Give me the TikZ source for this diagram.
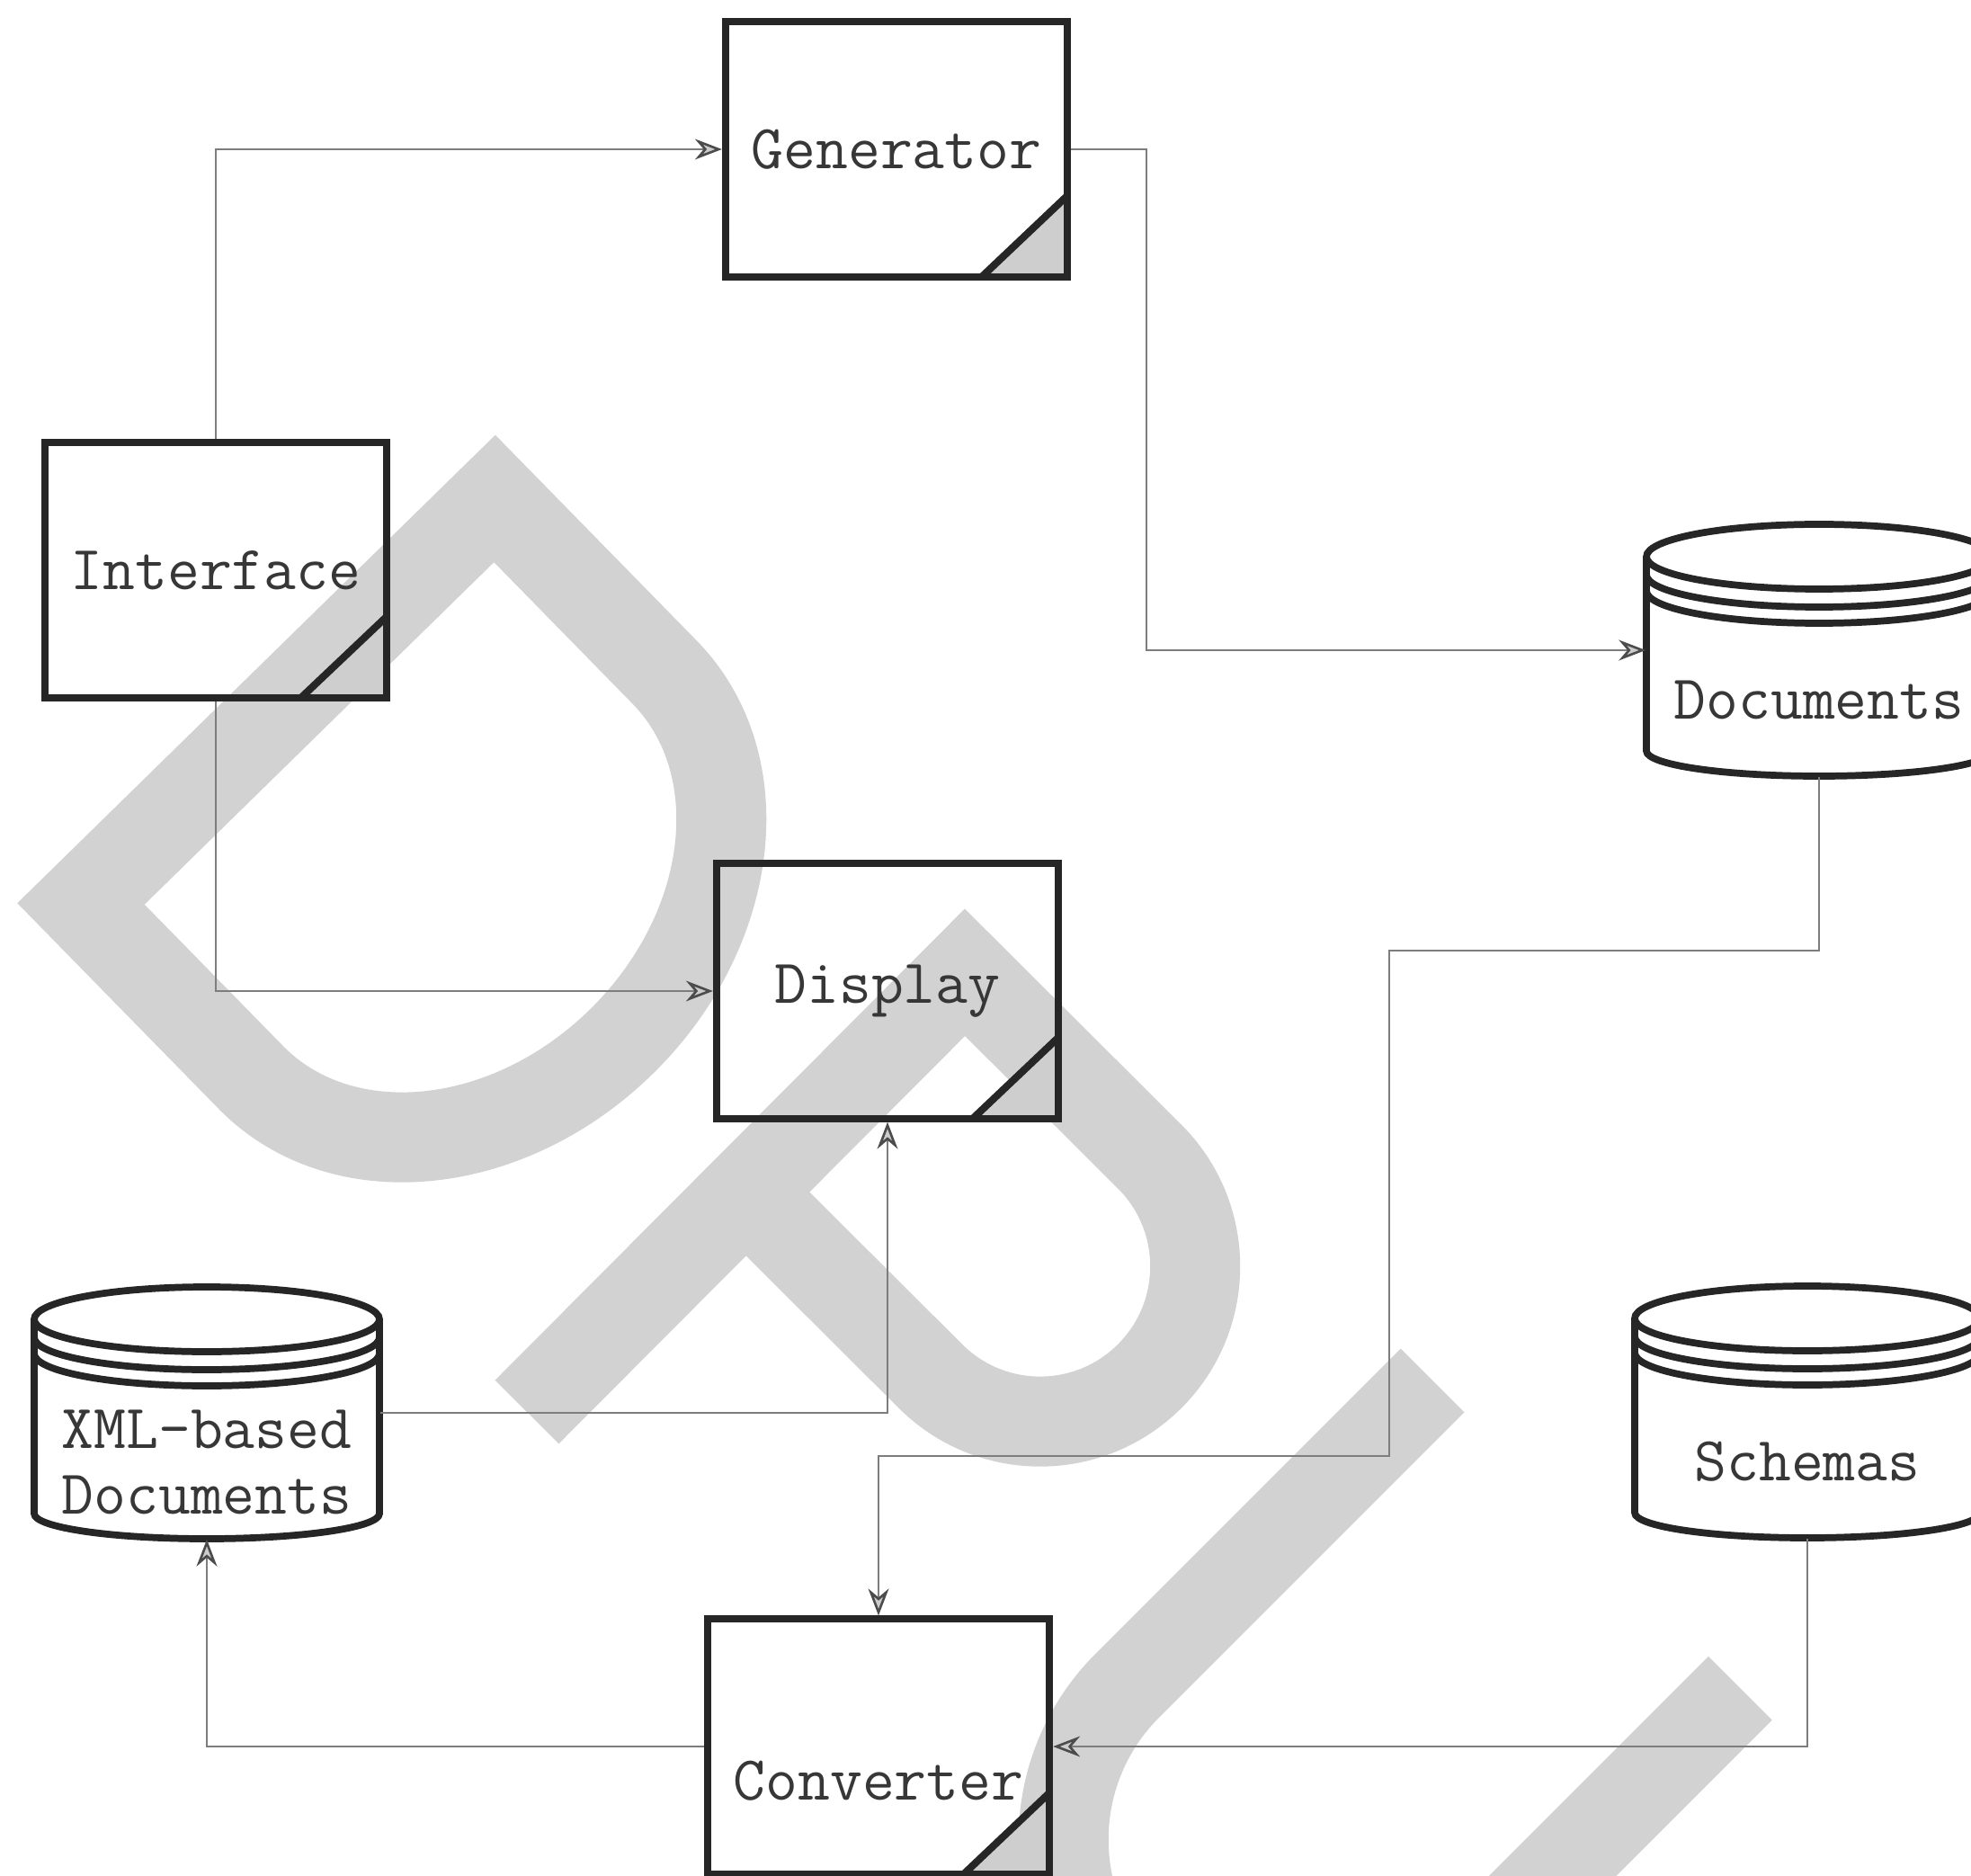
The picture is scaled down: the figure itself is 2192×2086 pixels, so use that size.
\documentclass[tikz,border=0pt]{standalone}
\usepackage{fontspec}
\usetikzlibrary{arrows.meta}

\definecolor{wmgray}{RGB}{210,210,210}
\definecolor{inkgray}{RGB}{38,38,38}
\definecolor{textgray}{RGB}{55,55,55}
\definecolor{linkgray}{RGB}{125,125,125}
\definecolor{foldgray}{RGB}{206,206,206}

\newcommand{\diafont}{\ttfamily\fontsize{19.8}{20.8}\selectfont}

\tikzset{
  proc/.style={draw=inkgray, line width=2.3pt, minimum width=3.8cm,
    minimum height=2.83cm, inner sep=0pt, font=\diafont, text=textgray,
    path picture={
      \fill[foldgray] (path picture bounding box.south east)
        -- ++(-0.95cm,0) -- ++(0.95cm,0.9cm) -- cycle;
      \draw[inkgray, line width=2.3pt] (path picture bounding box.south east)
        ++(-0.95cm,0) -- ++(0.95cm,0.9cm);
    }},
  dbbox/.style={draw=none, minimum width=3.84cm, minimum height=2.8cm, inner sep=0pt},
  dblabel/.style={font=\diafont, text=textgray, align=center, yshift=-0.55cm},
  dbline/.style={draw=inkgray, line width=2.2pt},
  link/.style={draw=linkgray, line width=0.75pt,
    -{Stealth[length=8.5pt, width=6.5pt, color=gray!60!black, fill=gray!40]}},
  wmark/.style={draw=wmgray, line width=1cm, line join=miter}
}

% database drum: name, centre x, centre y, caption
\newcommand{\dbshape}[4]{%
  \node[dbbox, label={[dblabel, name=#1-txt]center:{#4}}] (#1) at (#2,#3) {};
  \begin{scope}[shift={(#1.center)}, dbline]
    \draw (0,104) ellipse [x radius=192, y radius=36];
    \draw (-192,84) arc[start angle=180, end angle=360, x radius=192, y radius=36];
    \draw (-192,66) arc[start angle=180, end angle=360, x radius=192, y radius=36];
    \draw (-192,104) -- (-192,-112)
      arc[start angle=180, end angle=360, x radius=192, y radius=28] -- (192,104);
  \end{scope}}

\begin{document}
\begin{tikzpicture}[x=0.01cm, y=0.01cm]
  \useasboundingbox (0,0) rectangle (2192,-2086);
  \clip (0,0) rectangle (2192,-2086);

  % background lettering
  \draw[wmark, shift={(90,-1005)}, rotate=44.4]
    (0,0) -- (644,0) -- (644,-270)
    arc[start angle=0, end angle=-180, x radius=322, y radius=260] -- cycle;
  \draw[wmark, shift={(586,-1570)}, rotate=45.1]
    (0,0) -- (690,0) -- (690,-290)
    arc[start angle=0, end angle=-180, radius=172.5] -- (345,0);
  \draw[wmark, shift={(1593,-1535)}, rotate=45]
    (0,0) -- (-480,0)
    arc[start angle=90, end angle=270, radius=242] -- (0,-484);

  % processes
  \node[proc] (gen)  at (997,-166)  {Generator};
  \node[proc] (intf) at (240,-634)  {Interface};
  \node[proc] (disp) at (987,-1102) {Display};
  \node[proc, label={[name=conv-txt, font=\diafont, text=textgray, yshift=-0.38cm]center:Converter}]
    (conv) at (977,-1942) {};

  % stores
  \dbshape{docs}{2023}{-723}{Documents}
  \dbshape{xml}{230}{-1571}{XML-based\\Documents}
  \dbshape{schemas}{2010}{-1570}{Schemas}

  % data flow
  \draw[link] (intf.north) |- (gen.west);
  \draw[link] (gen.east) -- ++(84,0) |- (docs.west);
  \draw[link] (intf.south) |- (disp.west);
  \draw[link] (docs.south) |- (1545,-1057) -- (1545,-1619) -| (conv.north);
  \draw[link] (xml.east) -| (disp.south);
  \draw[link] (conv.west) -| (xml.south);
  \draw[link] (schemas.south) |- (conv.east);
\end{tikzpicture}
\end{document}
